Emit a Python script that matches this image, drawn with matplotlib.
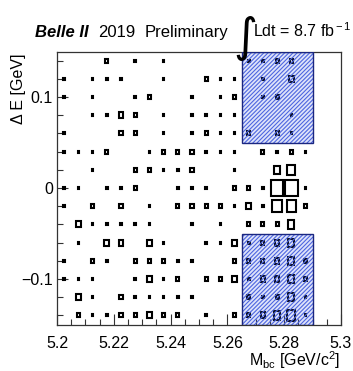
import numpy as np
import matplotlib
matplotlib.use('Agg')
import matplotlib.pyplot as plt
from matplotlib.patches import Rectangle
from matplotlib.ticker import MultipleLocator

plt.rcParams['font.family'] = 'Liberation Sans'
plt.rcParams['mathtext.fontset'] = 'custom'
plt.rcParams['mathtext.rm'] = 'Liberation Sans'
plt.rcParams['mathtext.it'] = 'Liberation Sans:italic'
plt.rcParams['hatch.linewidth'] = 0.8

# binning of the 2D histogram (Mbc vs Delta E)
mbc_edges = np.linspace(5.2, 5.3, 21)
de_edges = np.linspace(-0.15, 0.15, 16)

# counts per cell, rows from top (dE = 0.14) to bottom (dE = -0.14)
counts = [
    [0,0,0,2,0,1,0,1,0,0,0,0,0,1,1,2,2,0,0,0],
    [1,0,1,1,1,0,0,1,0,0,2,1,1,0,1,0,3,0,0,0],
    [1,0,1,0,0,1,2,0,0,1,0,1,2,0,1,2,0,0,0,0],
    [0,0,1,1,3,2,0,1,0,1,1,1,1,0,0,0,1,0,0,0],
    [1,0,0,0,2,2,0,1,0,1,2,1,1,2,0,2,1,0,0,0],
    [1,1,1,2,0,0,1,2,2,2,1,1,1,0,2,1,2,1,0,0],
    [0,0,1,0,0,2,2,1,1,2,0,0,1,0,0,4,5,0,0,0],
    [1,1,0,1,1,2,0,0,1,1,1,0,2,2,1,8,8,1,0,0],
    [1,0,2,0,2,0,1,0,2,2,2,2,1,3,1,6,6,2,0,0],
    [0,3,1,1,1,1,1,0,0,1,0,1,0,2,2,2,4,0,0,0],
    [0,1,0,3,3,0,3,1,0,0,1,1,3,1,2,3,4,0,0,0],
    [1,0,2,1,0,2,2,2,1,1,0,0,2,2,2,3,4,2,0,0],
    [1,1,1,0,0,1,3,1,2,0,2,2,3,1,3,3,4,2,0,0],
    [0,3,1,0,2,1,1,1,1,1,0,0,0,2,1,2,4,1,0,0],
    [0,2,1,1,2,2,3,2,2,0,1,0,2,2,3,4,5,1,0,0],
]

# sideband boxes: (mbc_lo, mbc_hi, de_lo, de_hi)
boxes = [(5.265, 5.29, 0.05, 0.15), (5.265, 5.29, -0.15, -0.05)]

fig = plt.figure(figsize=(3.53, 3.71), dpi=100)
ax = fig.add_axes([0.1615, 0.1253, 0.8045, 0.7358])

cnt = np.array(counts)[::-1]   # now row 0 is the lowest dE bin
zmax = cnt.max()
xc = 0.5*(mbc_edges[1:] + mbc_edges[:-1])
yc = 0.5*(de_edges[1:] + de_edges[:-1])
cw = mbc_edges[1] - mbc_edges[0]
ch = de_edges[1] - de_edges[0]
for j in range(len(yc)):
    for i in range(len(xc)):
        z = cnt[j, i]
        if z == 0:
            continue
        r = 0.9*z/zmax
        w = cw*r
        h = ch*r
        ax.add_patch(Rectangle((xc[i]-w/2, yc[j]-h/2), w, h, fill=False,
                               edgecolor='black', linewidth=1.5, zorder=2))

for x0, x1, y0, y1 in boxes:
    ax.add_patch(Rectangle((x0, y0), x1-x0, y1-y0, facecolor=(0.3, 0.4, 0.9, 0.18),
                           edgecolor='none', zorder=3))
    ax.add_patch(Rectangle((x0, y0), x1-x0, y1-y0, fill=False, hatch='////////',
                           edgecolor=(0.3, 0.4, 0.88), linewidth=0, zorder=3))
    ax.add_patch(Rectangle((x0, y0), x1-x0, y1-y0, fill=False,
                           edgecolor=(0.1, 0.15, 0.5), linewidth=1.0, zorder=4))

ax.set_xlim(5.2, 5.3)
ax.set_ylim(-0.15, 0.15)
ax.xaxis.set_major_locator(MultipleLocator(0.02))
ax.xaxis.set_minor_locator(MultipleLocator(0.005))
ax.yaxis.set_major_locator(MultipleLocator(0.1))
ax.yaxis.set_minor_locator(MultipleLocator(0.02))
ax.set_xticks([5.2, 5.22, 5.24, 5.26, 5.28, 5.3])
ax.set_xticklabels(['5.2', '5.22', '5.24', '5.26', '5.28', '5.3'])
ax.set_yticks([-0.1, 0, 0.1])
ax.set_yticklabels(['\u22120.1', '0', '0.1'])
ax.tick_params(which='major', direction='in', length=8, width=0.8, labelsize=11.5, color='#333333')
ax.tick_params(which='minor', direction='in', length=4, width=0.8, color='#333333')
ax.tick_params(axis='x', pad=8)
ax.tick_params(axis='y', pad=3)
for s in ax.spines.values():
    s.set_linewidth(0.9)
    s.set_color('#333333')

fig.text(0.963, 0.014, r'M$_{\rm bc}$ [GeV/c$^{2}$]', ha='right', va='baseline', fontsize=11.5)
fig.text(0.052, 0.857, '\u0394 E [GeV]', rotation=90, ha='center', va='top', fontsize=11.5)

ty = 0.9
fig.text(0.099, ty, 'Belle II', fontsize=12, fontweight='bold', fontstyle='italic', va='baseline')
fig.text(0.278, ty, '2019', fontsize=12, va='baseline')
fig.text(0.411, ty, 'Preliminary', fontsize=12, va='baseline')
fig.text(0.662, 0.862, '\u222b', fontsize=33, va='baseline', family='DejaVu Sans')
fig.text(0.717, ty, r'Ldt = 8.7 fb$^{\rm -1}$', fontsize=11.5, va='baseline')

fig.savefig('out.png', dpi=100)
